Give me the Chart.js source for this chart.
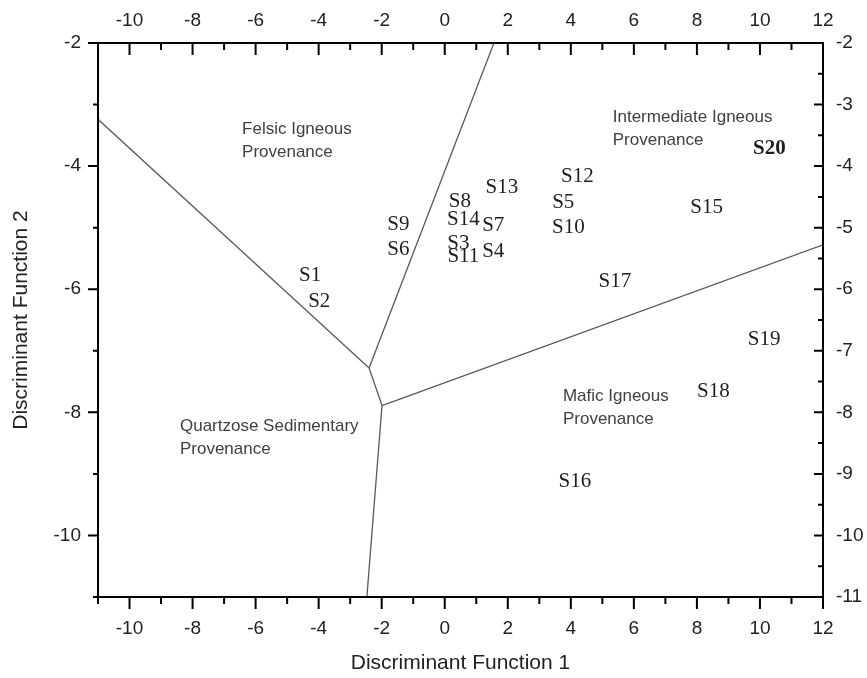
<!DOCTYPE html>
<html>
<head>
<meta charset="utf-8">
<script src="https://cdn.jsdelivr.net/npm/chart.js@4"></script>
<style>
  html, body { margin: 0; padding: 0; background: #fff; }
  canvas { display: block; }
</style>
</head>
<body>
<canvas id="c" width="867" height="678"></canvas>
<script>
// Sample discriminant-function scores
const sampleNames = ['S1','S2','S3','S4','S5','S6','S7','S8','S9','S10',
                     'S11','S12','S13','S14','S15','S16','S17','S18','S19','S20'];
const df1 = [-4.27, -3.98, 0.43, 1.54, 3.76, -1.47, 1.54, 0.48, -1.47, 3.92,
             0.59, 4.21, 1.81, 0.59, 8.31, 4.13, 5.40, 8.52, 10.13, 10.30];
const df2 = [-5.78, -6.20, -5.25, -5.39, -4.59, -5.36, -4.97, -4.57, -4.95, -4.99,
             -5.47, -4.17, -4.35, -4.86, -4.68, -9.13, -5.87, -7.66, -6.82, -3.72];
const boldSamples = ['S20'];

// Provenance field boundaries (DF1, DF2 end points)
const felsicQuartzoseX = [-11, -2.40];
const felsicQuartzoseY = [-3.24, -7.28];
const felsicIntermediateX = [-2.40, 1.56];
const felsicIntermediateY = [-7.28, -2];
const triplePointX = [-2.40, -1.99];
const triplePointY = [-7.28, -7.89];
const intermediateMaficX = [-1.99, 12];
const intermediateMaficY = [-7.89, -5.28];
const quartzoseMaficX = [-1.99, -2.47];
const quartzoseMaficY = [-7.89, -11];

// Field names
const fieldNames = [
  ['Felsic Igneous', 'Provenance'],
  ['Intermediate Igneous', 'Provenance'],
  ['Mafic Igneous', 'Provenance'],
  ['Quartzose Sedimentary', 'Provenance']
];
const fieldX = [-6.43, 5.33, 3.75, -8.40];
const fieldY = [-3.41, -3.21, -7.74, -8.23];

// Axis tick labels
const xTickLabels = [-10, -8, -6, -4, -2, 0, 2, 4, 6, 8, 10, 12];
const yLeftTickLabels = [-10, -8, -6, -4, -2];
const yRightTickLabels = [-11, -10, -9, -8, -7, -6, -5, -4, -3, -2];

const xMin = -11, xMax = 12, yMin = -11, yMax = -2;

function pairs(xs, ys) { return xs.map((x, i) => ({ x: x, y: ys[i] })); }

function boundary(xs, ys) {
  return {
    type: 'line',
    data: pairs(xs, ys),
    borderColor: '#5a5a5a',
    borderWidth: 1.3,
    pointRadius: 0,
    fill: false,
    tension: 0
  };
}

const tickFont = { family: "'Liberation Sans', Arial, sans-serif", size: 19 };
const titleFont = { family: "'Liberation Sans', Arial, sans-serif", size: 21 };

function fixedTicks(values) {
  return function (scale) { scale.ticks = values.map(v => ({ value: v })); };
}

// Frame, tick marks, sample names and field names
const decorations = {
  id: 'decorations',
  afterDatasetsDraw(chart) {
    const ctx = chart.ctx;
    const xs = chart.scales.x, ys = chart.scales.y;
    const a = chart.chartArea;

    // sample labels at their scores
    const meta = chart.getDatasetMeta(0);
    ctx.save();
    ctx.fillStyle = '#1e1e1e';
    ctx.textAlign = 'center';
    ctx.textBaseline = 'middle';
    meta.data.forEach((pt, i) => {
      const name = sampleNames[i];
      const bold = boldSamples.includes(name);
      ctx.font = (bold ? 'bold ' : '') + "21px 'Liberation Serif', 'Times New Roman', serif";
      ctx.fillText(name, pt.x, pt.y);
    });
    ctx.restore();

    // field names
    ctx.save();
    ctx.fillStyle = '#404040';
    ctx.textAlign = 'left';
    ctx.textBaseline = 'middle';
    ctx.font = "17px 'Liberation Sans', Arial, sans-serif";
    fieldNames.forEach((lines, i) => {
      const px = xs.getPixelForValue(fieldX[i]);
      const py = ys.getPixelForValue(fieldY[i]);
      lines.forEach((t, k) => ctx.fillText(t, px, py + k * 23));
    });
    ctx.restore();

    // frame
    ctx.save();
    ctx.strokeStyle = '#000';
    ctx.lineWidth = 2;
    ctx.strokeRect(a.left, a.top, a.right - a.left, a.bottom - a.top);

    ctx.lineWidth = 2;
    ctx.beginPath();
    // bottom (outward) and top (inward), major every 2 units
    for (let v = xMin; v <= xMax; v++) {
      const px = xs.getPixelForValue(v);
      const len = (v % 2 === 0) ? 12 : 7;
      ctx.moveTo(px, a.bottom); ctx.lineTo(px, a.bottom + len);
      ctx.moveTo(px, a.top); ctx.lineTo(px, a.top + len);
    }
    // left (outward), major every 2 units
    for (let v = yMin; v <= yMax; v++) {
      const py = ys.getPixelForValue(v);
      const len = (v % 2 === 0) ? 10 : 5;
      ctx.moveTo(a.left, py); ctx.lineTo(a.left - len, py);
    }
    // right (inward), major every unit, minor every half
    for (let v = yMin; v <= yMax; v += 0.5) {
      const py = ys.getPixelForValue(v);
      const len = Number.isInteger(v) ? 9 : 5;
      ctx.moveTo(a.right, py); ctx.lineTo(a.right - len, py);
    }
    ctx.stroke();
    ctx.restore();
  }
};

new Chart(document.getElementById('c'), {
  type: 'scatter',
  data: {
    datasets: [
      { type: 'scatter', data: pairs(df1, df2), pointRadius: 0, pointHoverRadius: 0 },
      boundary(felsicQuartzoseX, felsicQuartzoseY),
      boundary(felsicIntermediateX, felsicIntermediateY),
      boundary(triplePointX, triplePointY),
      boundary(intermediateMaficX, intermediateMaficY),
      boundary(quartzoseMaficX, quartzoseMaficY)
    ]
  },
  options: {
    responsive: false,
    animation: false,
    devicePixelRatio: 1,
    layout: { padding: 0 },
    plugins: { legend: { display: false }, tooltip: { enabled: false } },
    scales: {
      x: {
        type: 'linear', position: 'bottom', min: xMin, max: xMax,
        afterBuildTicks: fixedTicks(xTickLabels),
        afterFit(s) { s.height = 81; },
        grid: { display: false, drawTicks: false },
        border: { display: false },
        ticks: { font: tickFont, color: '#222', padding: 20, maxRotation: 0, autoSkip: false },
        title: { display: true, text: 'Discriminant Function 1', font: titleFont, color: '#222',
                 padding: { top: 0, bottom: 2 } }
      },
      x2: {
        type: 'linear', position: 'top', min: xMin, max: xMax,
        afterBuildTicks: fixedTicks(xTickLabels),
        afterFit(s) { s.height = 43; },
        grid: { display: false, drawTicks: false },
        border: { display: false },
        ticks: { font: tickFont, color: '#222', padding: 11, maxRotation: 0, autoSkip: false }
      },
      y: {
        type: 'linear', position: 'left', min: yMin, max: yMax,
        afterBuildTicks: fixedTicks(yLeftTickLabels),
        afterFit(s) { s.width = 98; },
        grid: { display: false, drawTicks: false },
        border: { display: false },
        ticks: { font: tickFont, color: '#222', padding: 17, autoSkip: false },
        title: { display: true, text: 'Discriminant Function 2', font: titleFont, color: '#222',
                 padding: { top: 9, bottom: 0 } }
      },
      y2: {
        type: 'linear', position: 'right', min: yMin, max: yMax,
        afterBuildTicks: fixedTicks(yRightTickLabels),
        afterFit(s) { s.width = 44; },
        grid: { display: false, drawTicks: false },
        border: { display: false },
        ticks: { font: tickFont, color: '#222', padding: 13, autoSkip: false }
      }
    }
  },
  plugins: [decorations]
});
</script>
</body>
</html>
